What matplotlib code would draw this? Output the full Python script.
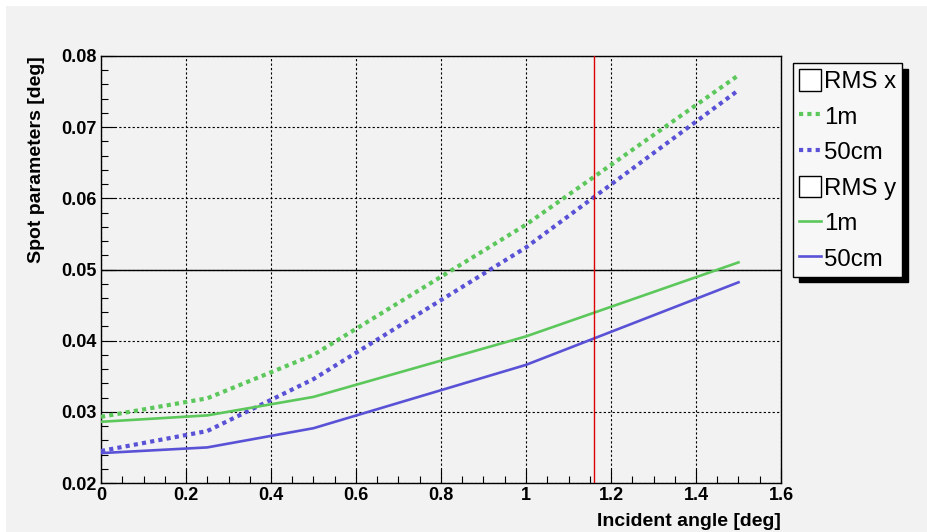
import matplotlib
matplotlib.use('Agg')
from matplotlib import pyplot as plt
from matplotlib.lines import Line2D
from matplotlib.patches import Rectangle
from matplotlib.ticker import MultipleLocator

plt.rcParams['font.family'] = ['Liberation Sans', 'DejaVu Sans']
plt.rcParams['xtick.direction'] = 'in'
plt.rcParams['ytick.direction'] = 'in'

# incident angle [deg]
angle = [0.0, 0.25, 0.5, 1.0, 1.5]
# RMS x
rmsx_1m = [0.0293, 0.0319, 0.0380, 0.0563, 0.0773]
rmsx_50cm = [0.0245, 0.0273, 0.0346, 0.0531, 0.0752]
# RMS y
rmsy_1m = [0.0286, 0.0295, 0.0321, 0.0406, 0.0510]
rmsy_50cm = [0.0242, 0.0250, 0.0277, 0.0366, 0.0482]

xticks = [0, 0.2, 0.4, 0.6, 0.8, 1.0, 1.2, 1.4, 1.6]
xticklabels = ['0', '0.2', '0.4', '0.6', '0.8', '1', '1.2', '1.4', '1.6']
yticks = [0.02, 0.03, 0.04, 0.05, 0.06, 0.07, 0.08]
yticklabels = ['0.02', '0.03', '0.04', '0.05', '0.06', '0.07', '0.08']

limit = 0.05
cut_angle = 1.161

green = '#5cc85c'
blue = '#5a52d6'
bg = '#f2f2f2'

fig = plt.figure(figsize=(9.28, 5.32), dpi=100, facecolor='white')
fig.patches.append(Rectangle((6 / 928, 0), 1, 1 - 6 / 532, transform=fig.transFigure,
                             facecolor=bg, edgecolor='none', zorder=-10))
ax = fig.add_axes([101 / 928, 1 - 483 / 532, 680 / 928, 427 / 532])
ax.set_facecolor(bg)

ax.plot(angle, rmsx_1m, color=green, lw=3, linestyle=(0, (1, 1)), zorder=3)
ax.plot(angle, rmsx_50cm, color=blue, lw=3, linestyle=(0, (1, 1)), zorder=3)
ax.plot(angle, rmsy_1m, color=green, lw=1.9, zorder=3)
ax.plot(angle, rmsy_50cm, color=blue, lw=1.9, zorder=3)

ax.axhline(limit, color='black', lw=1.0, zorder=2)
ax.axvline(cut_angle, color='#dd0000', lw=1.0, zorder=4)

ax.set_xlim(0, 1.6)
ax.set_ylim(0.02, 0.08)
ax.set_xticks(xticks)
ax.set_xticklabels(xticklabels)
ax.set_yticks(yticks)
ax.set_yticklabels(yticklabels)
ax.xaxis.set_minor_locator(MultipleLocator(0.05))
ax.yaxis.set_minor_locator(MultipleLocator(0.002))
ax.tick_params(which='major', length=10, width=0.8, pad=3, labelsize=13)
ax.tick_params(which='minor', length=5, width=0.8)
for lab in ax.get_xticklabels() + ax.get_yticklabels():
    lab.set_fontweight('bold')
ax.grid(True, which='major', color='black', lw=0.8, linestyle=(0, (2, 2)))
for s in ax.spines.values():
    s.set_linewidth(1.0)

ax.set_xlabel('Incident angle [deg]', fontsize=14, fontweight='bold', loc='right', labelpad=6)
ax.set_ylabel('Spot parameters [deg]', fontsize=14, fontweight='bold', loc='top', labelpad=12)

box = dict(facecolor='white', edgecolor='black', lw=1)
handles = [Rectangle((0, 0), 1, 1, **box),
           Line2D([], [], color=green, lw=3, linestyle=(0, (1, 1))),
           Line2D([], [], color=blue, lw=3, linestyle=(0, (1, 1))),
           Rectangle((0, 0), 1, 1, **box),
           Line2D([], [], color=green, lw=1.9),
           Line2D([], [], color=blue, lw=1.9)]
labels = ['RMS x', '1m', '50cm', 'RMS y', '1m', '50cm']
leg = fig.legend(handles, labels, loc='upper left', bbox_to_anchor=(793 / 928, 1 - 63 / 532),
                 borderaxespad=0, fontsize=17.3, frameon=True, fancybox=False,
                 handlelength=0.9, handleheight=1.0, handletextpad=0.15, labelspacing=0.48,
                 borderpad=0.25, shadow={'color': 'black', 'alpha': 1, 'ox': 4, 'oy': -4})
leg.get_frame().set_edgecolor('black')
leg.get_frame().set_facecolor('#f7f7f7')
leg.get_frame().set_linewidth(1.0)

plt.savefig('out.png', dpi=100, facecolor=fig.get_facecolor())
